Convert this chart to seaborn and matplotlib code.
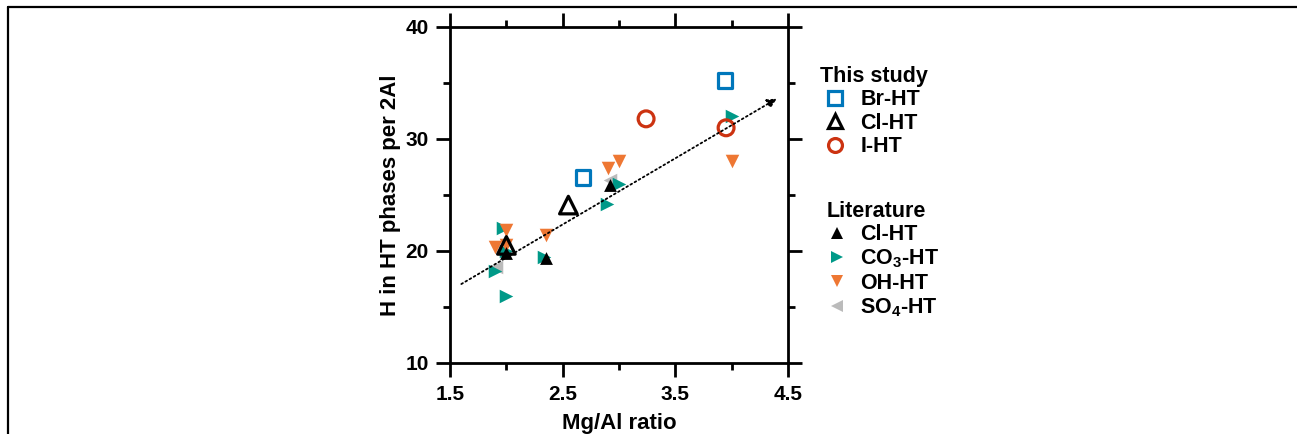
import matplotlib
matplotlib.use("Agg")
import matplotlib.pyplot as plt
from matplotlib.lines import Line2D
from matplotlib.ticker import MultipleLocator
import seaborn as sns
import pandas as pd

# This study
br_x = [2.68, 3.94]
br_y = [26.6, 35.2]
cl_x = [2.0, 2.55]
cl_y = [20.5, 24.1]
i_x = [3.24, 3.95]
i_y = [31.8, 31.0]

# Literature
lit_cl_x = [2.0, 2.35, 2.92]
lit_cl_y = [19.8, 19.4, 25.9]
co3_x = [1.90, 1.97, 2.0, 2.0, 2.33, 2.89, 3.0, 4.0]
co3_y = [18.2, 22.05, 16.0, 20.0, 19.5, 24.2, 26.0, 32.05]
oh_x = [1.90, 2.0, 2.0, 2.35, 2.9, 3.0, 4.0]
oh_y = [20.4, 21.9, 20.5, 21.4, 27.45, 28.05, 28.05]
so4_x = [1.91, 2.92]
so4_y = [18.6, 26.3]

# Linear trend (dotted arrow)
trend_x = [1.60, 4.40]
trend_y = [17.05, 33.6]

x_major = [1.5, 2.5, 3.5, 4.5]
x_minor = [2.0, 3.0, 4.0]

BLUE, RED, TEAL, ORANGE, GREY = "#0077BB", "#CC3311", "#009988", "#EE7733", "#BBBBBB"

sns.set_theme(style="ticks")
plt.rcParams["font.family"] = ["Liberation Sans", "DejaVu Sans"]
plt.rcParams["font.weight"] = "bold"
plt.rcParams["text.color"] = "black"
plt.rcParams["axes.labelcolor"] = "black"
plt.rcParams["xtick.color"] = "black"
plt.rcParams["ytick.color"] = "black"
plt.rcParams["mathtext.fontset"] = "custom"
plt.rcParams["mathtext.rm"] = "Liberation Sans:bold"
plt.rcParams["mathtext.bf"] = "Liberation Sans:bold"

fig = plt.figure(figsize=(12.97, 4.34), dpi=100)
ax = fig.add_axes([0.347, 0.1636, 0.2606, 0.7742])

def scatter(x, y, **kw):
    df = pd.DataFrame({"x": x, "y": y})
    sns.scatterplot(data=df, x="x", y="y", ax=ax, legend=False, **kw)

# literature data, drawn underneath
scatter(so4_x, so4_y, marker="<", color=GREY, s=95, linewidth=0)
scatter(co3_x, co3_y, marker=">", color=TEAL, s=95, linewidth=0)
scatter(oh_x, oh_y, marker="v", color=ORANGE, s=95, linewidth=0)
scatter(lit_cl_x, lit_cl_y, marker="^", color="black", s=85, linewidth=0)

# this study, open symbols
scatter(br_x, br_y, marker="s", s=115, facecolor="none", edgecolor=BLUE, linewidth=2.3)
scatter(cl_x, cl_y, marker="^", s=160, facecolor="none", edgecolor="black", linewidth=2.3)
scatter(i_x, i_y, marker="o", s=130, facecolor="none", edgecolor=RED, linewidth=2.3)

ax.annotate("", xy=(trend_x[1], trend_y[1]), xytext=(trend_x[0], trend_y[0]),
            arrowprops=dict(arrowstyle="-|>", color="black", lw=1.3, linestyle=":",
                            mutation_scale=14, shrinkA=0, shrinkB=0))

ax.set_xlim(1.5, 4.5)
ax.set_ylim(10, 40)
ax.set_xticks(x_major)
ax.set_xticklabels([f"{v:.1f}" for v in x_major])
ax.set_xticks(x_minor, minor=True)
ax.yaxis.set_major_locator(MultipleLocator(10))
ax.yaxis.set_minor_locator(MultipleLocator(5))

for sp in ax.spines.values():
    sp.set_linewidth(2.0)
    sp.set_color("black")
ax.tick_params(which="major", direction="out", length=10, width=2.0,
               top=True, right=True, labelsize=15, pad=5.5, colors="black")
ax.tick_params(which="minor", direction="out", length=5, width=2.0,
               top=True, right=True, colors="black")
for lab in ax.get_xticklabels() + ax.get_yticklabels():
    lab.set_fontweight("bold")

ax.set_xlabel("Mg/Al ratio", fontsize=16, fontweight="bold", labelpad=7, color="black")
ax.set_ylabel("H in HT phases per 2Al", fontsize=16, fontweight="bold", labelpad=3,
              color="black")

def handle(marker, color, open_=False, ms=9):
    if open_:
        return Line2D([], [], linestyle="none", marker=marker, markersize=ms,
                      markerfacecolor="none", markeredgecolor=color, markeredgewidth=2.3)
    return Line2D([], [], linestyle="none", marker=marker, markersize=ms,
                  markerfacecolor=color, markeredgewidth=0)

leg_kw = dict(frameon=False, fontsize=15.5, labelspacing=0.12, alignment="left",
              borderaxespad=0, labelcolor="black",
              title_fontproperties={"weight": "bold", "size": 15.5})

leg1 = ax.legend(handles=[handle("s", BLUE, True, 10), handle("^", "black", True, 10.5),
                          handle("o", RED, True, 10)],
                 labels=["Br-HT", "Cl-HT", "I-HT"], title="This study",
                 loc="upper left", bbox_to_anchor=(1.07, 0.911),
                 handlelength=1.4, handletextpad=0.47, **leg_kw)
ax.add_artist(leg1)
leg2 = ax.legend(handles=[handle("^", "black", ms=8.5), handle(">", TEAL, ms=8.5),
                          handle("v", ORANGE, ms=8.5), handle("<", GREY, ms=8.5)],
                 labels=["Cl-HT", "CO$_\\mathbf{3}$-HT", "OH-HT", "SO$_\\mathbf{4}$-HT"],
                 title="Literature", loc="upper left", bbox_to_anchor=(1.09, 0.509),
                 handlelength=0.95, handletextpad=0.6, **leg_kw)
for lg in (leg1, leg2):
    lg.get_title().set_color("black")
    for t in lg.get_texts():
        t.set_fontweight("bold")
        t.set_color("black")

# outer frame lines (top and left)
fig.add_artist(Line2D([8 / 1297, 1.0], [1 - 7 / 434, 1 - 7 / 434], color="black",
                      lw=1.6, transform=fig.transFigure))
fig.add_artist(Line2D([8 / 1297, 8 / 1297], [0.0, 1 - 7 / 434], color="black",
                      lw=1.6, transform=fig.transFigure))

fig.savefig("out.png", dpi=100)
